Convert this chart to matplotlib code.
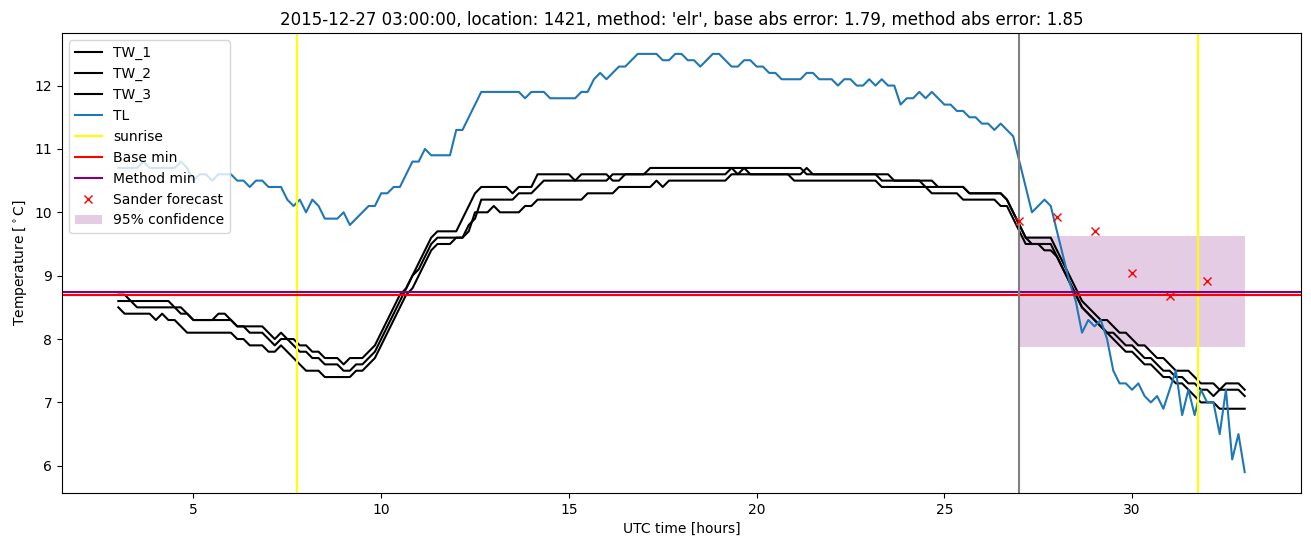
import matplotlib
matplotlib.use('Agg')
import matplotlib.pyplot as plt
import numpy as np

# time axis: 10-minute samples from 03:00 to 33:00 (hours since 2015-12-27 00:00 UTC)
hours = np.linspace(3, 33, 181)

tl_rows = [
    [10.7, 10.7, 10.7, 10.7, 10.8, 10.7],   # 3
    [10.7, 10.7, 10.7, 10.7, 10.8, 10.7],   # 4
    [10.5, 10.6, 10.6, 10.5, 10.6, 10.6],   # 5
    [10.6, 10.5, 10.5, 10.4, 10.5, 10.5],   # 6
    [10.4, 10.4, 10.4, 10.2, 10.1, 10.2],   # 7
    [10.0, 10.2, 10.1, 9.9, 9.9, 9.9],      # 8
    [10.0, 9.8, 9.9, 10.0, 10.1, 10.1],     # 9
    [10.3, 10.3, 10.4, 10.4, 10.6, 10.8],   # 10
    [10.8, 11.0, 10.9, 10.9, 10.9, 10.9],   # 11
    [11.3, 11.3, 11.5, 11.7, 11.9, 11.9],   # 12
    [11.9, 11.9, 11.9, 11.9, 11.9, 11.8],   # 13
    [11.9, 11.9, 11.9, 11.8, 11.8, 11.8],   # 14
    [11.8, 11.8, 11.9, 11.9, 12.1, 12.2],   # 15
    [12.1, 12.2, 12.3, 12.3, 12.4, 12.5],   # 16
    [12.5, 12.5, 12.5, 12.4, 12.4, 12.5],   # 17
    [12.5, 12.4, 12.4, 12.3, 12.4, 12.5],   # 18
    [12.5, 12.4, 12.3, 12.3, 12.4, 12.4],   # 19
    [12.3, 12.3, 12.2, 12.2, 12.1, 12.1],   # 20
    [12.1, 12.1, 12.2, 12.2, 12.1, 12.1],   # 21
    [12.1, 12.0, 12.1, 12.1, 12.0, 12.0],   # 22
    [12.1, 12.0, 12.1, 12.0, 12.0, 11.7],   # 23
    [11.8, 11.8, 11.9, 11.8, 11.9, 11.8],   # 24
    [11.7, 11.7, 11.6, 11.6, 11.5, 11.5],   # 25
    [11.4, 11.4, 11.3, 11.4, 11.3, 11.2],   # 26
    [10.8, 10.4, 10.0, 10.1, 10.2, 10.1],   # 27
    [9.7, 9.3, 8.9, 8.6, 8.1, 8.3],         # 28
    [8.2, 8.3, 8.0, 7.5, 7.3, 7.3],         # 29
    [7.2, 7.3, 7.1, 7.0, 7.1, 6.9],         # 30
    [7.2, 7.5, 6.8, 7.2, 6.8, 7.2],         # 31
    [7.0, 7.0, 6.5, 7.2, 6.1, 6.5],         # 32
    [5.9],                                  # 33
]

tw1_rows = [
    [8.7, 8.7, 8.6, 8.6, 8.6, 8.6],
    [8.6, 8.6, 8.6, 8.5, 8.5, 8.4],
    [8.3, 8.3, 8.3, 8.3, 8.4, 8.4],
    [8.3, 8.2, 8.2, 8.2, 8.2, 8.2],
    [8.1, 8.0, 8.1, 8.0, 8.0, 7.9],
    [7.9, 7.8, 7.8, 7.7, 7.7, 7.7],
    [7.6, 7.7, 7.7, 7.7, 7.8, 7.9],
    [8.1, 8.3, 8.5, 8.7, 8.8, 9.0],
    [9.2, 9.4, 9.6, 9.7, 9.7, 9.7],
    [9.7, 9.9, 10.1, 10.3, 10.4, 10.4],
    [10.4, 10.4, 10.4, 10.3, 10.4, 10.4],
    [10.4, 10.6, 10.6, 10.6, 10.6, 10.6],
    [10.6, 10.5, 10.6, 10.6, 10.6, 10.6],
    [10.6, 10.5, 10.5, 10.6, 10.6, 10.6],
    [10.6, 10.7, 10.7, 10.7, 10.7, 10.7],
    [10.7, 10.7, 10.7, 10.7, 10.7, 10.7],
    [10.7, 10.7, 10.7, 10.7, 10.7, 10.7],
    [10.7, 10.7, 10.7, 10.7, 10.7, 10.7],
    [10.7, 10.7, 10.6, 10.6, 10.6, 10.6],
    [10.6, 10.6, 10.6, 10.6, 10.6, 10.6],
    [10.6, 10.6, 10.6, 10.6, 10.5, 10.5],
    [10.5, 10.5, 10.5, 10.5, 10.5, 10.4],
    [10.4, 10.4, 10.4, 10.4, 10.3, 10.3],
    [10.3, 10.3, 10.3, 10.3, 10.2, 10.0],
    [9.8, 9.6, 9.6, 9.6, 9.6, 9.6],
    [9.4, 9.2, 9.0, 8.8, 8.6, 8.5],
    [8.4, 8.3, 8.3, 8.2, 8.1, 8.1],
    [8.0, 7.9, 7.9, 7.8, 7.7, 7.7],
    [7.6, 7.5, 7.5, 7.5, 7.4, 7.3],
    [7.3, 7.3, 7.2, 7.3, 7.3, 7.3],
    [7.2],
]

tw2_rows = [
    [8.6, 8.6, 8.6, 8.5, 8.5, 8.5],
    [8.5, 8.5, 8.5, 8.5, 8.4, 8.4],
    [8.3, 8.3, 8.3, 8.3, 8.3, 8.3],
    [8.3, 8.2, 8.2, 8.1, 8.1, 8.1],
    [8.0, 7.9, 8.0, 8.0, 7.9, 7.8],
    [7.8, 7.7, 7.7, 7.6, 7.6, 7.6],
    [7.5, 7.5, 7.6, 7.6, 7.7, 7.8],
    [8.0, 8.2, 8.4, 8.6, 8.8, 9.0],
    [9.1, 9.3, 9.5, 9.6, 9.6, 9.6],
    [9.6, 9.6, 9.8, 9.9, 10.2, 10.2],
    [10.2, 10.2, 10.2, 10.2, 10.3, 10.3],
    [10.3, 10.4, 10.5, 10.5, 10.5, 10.5],
    [10.5, 10.5, 10.5, 10.5, 10.5, 10.5],
    [10.5, 10.6, 10.6, 10.6, 10.6, 10.6],
    [10.6, 10.6, 10.6, 10.6, 10.6, 10.6],
    [10.6, 10.6, 10.6, 10.6, 10.6, 10.6],
    [10.6, 10.6, 10.7, 10.6, 10.7, 10.6],
    [10.6, 10.6, 10.6, 10.6, 10.6, 10.6],
    [10.6, 10.6, 10.7, 10.6, 10.6, 10.6],
    [10.6, 10.6, 10.6, 10.6, 10.6, 10.6],
    [10.6, 10.6, 10.5, 10.5, 10.5, 10.5],
    [10.5, 10.5, 10.5, 10.4, 10.4, 10.4],
    [10.4, 10.4, 10.4, 10.4, 10.3, 10.3],
    [10.3, 10.3, 10.3, 10.3, 10.2, 10.0],
    [9.8, 9.6, 9.5, 9.5, 9.5, 9.5],
    [9.3, 9.1, 8.9, 8.7, 8.5, 8.4],
    [8.3, 8.2, 8.1, 8.1, 8.0, 7.9],
    [7.9, 7.8, 7.7, 7.7, 7.6, 7.5],
    [7.5, 7.4, 7.4, 7.3, 7.3, 7.2],
    [7.2, 7.1, 7.2, 7.2, 7.2, 7.2],
    [7.1],
]

tw3_rows = [
    [8.5, 8.4, 8.4, 8.4, 8.4, 8.4],
    [8.3, 8.4, 8.3, 8.3, 8.2, 8.1],
    [8.1, 8.1, 8.1, 8.1, 8.1, 8.1],
    [8.1, 8.0, 8.0, 7.9, 7.9, 7.9],
    [7.8, 7.8, 7.9, 7.8, 7.7, 7.6],
    [7.5, 7.5, 7.5, 7.4, 7.4, 7.4],
    [7.4, 7.4, 7.5, 7.5, 7.6, 7.7],
    [7.9, 8.1, 8.3, 8.5, 8.7, 8.8],
    [9.0, 9.2, 9.4, 9.5, 9.5, 9.5],
    [9.6, 9.6, 9.7, 10.0, 10.0, 10.0],
    [10.1, 10.0, 10.0, 10.0, 10.0, 10.1],
    [10.1, 10.2, 10.2, 10.2, 10.2, 10.2],
    [10.2, 10.2, 10.2, 10.3, 10.3, 10.3],
    [10.3, 10.3, 10.4, 10.4, 10.4, 10.4],
    [10.4, 10.4, 10.5, 10.4, 10.5, 10.5],
    [10.5, 10.5, 10.5, 10.5, 10.5, 10.5],
    [10.5, 10.5, 10.6, 10.6, 10.6, 10.6],
    [10.6, 10.6, 10.6, 10.6, 10.6, 10.6],
    [10.5, 10.5, 10.5, 10.5, 10.5, 10.5],
    [10.5, 10.5, 10.5, 10.5, 10.5, 10.5],
    [10.5, 10.5, 10.4, 10.4, 10.4, 10.4],
    [10.4, 10.4, 10.4, 10.4, 10.3, 10.3],
    [10.3, 10.3, 10.3, 10.2, 10.2, 10.2],
    [10.2, 10.2, 10.2, 10.1, 10.1, 9.9],
    [9.7, 9.5, 9.5, 9.5, 9.4, 9.4],
    [9.3, 9.1, 8.9, 8.7, 8.5, 8.4],
    [8.3, 8.2, 8.1, 8.0, 7.9, 7.8],
    [7.8, 7.7, 7.6, 7.6, 7.5, 7.4],
    [7.4, 7.3, 7.3, 7.2, 7.1, 7.0],
    [7.0, 7.0, 6.9, 6.9, 6.9, 6.9],
    [6.9],
]

tl = [v for row in tl_rows for v in row]
tw1 = [v for row in tw1_rows for v in row]
tw2 = [v for row in tw2_rows for v in row]
tw3 = [v for row in tw3_rows for v in row]

sunrise_hours = [7.75, 31.75]
forecast_start = 27.0
base_min = 8.70
method_min = 8.75
sander_hours = [27, 28, 29, 30, 31, 32]
sander_values = [9.86, 9.93, 9.71, 9.05, 8.68, 8.92]
conf_hours = [27, 33]
conf_low = 7.88
conf_high = 9.62

title = ("2015-12-27 03:00:00, location: 1421, method: 'elr', "
         "base abs error: 1.79, method abs error: 1.85")

fig, ax = plt.subplots(figsize=(13.11, 5.47), dpi=100)
fig.subplots_adjust(left=0.0473, right=0.9924, bottom=0.0987, top=0.9397)

ax.plot(hours, tw1, color='black', label='TW_1')
ax.plot(hours, tw2, color='black', label='TW_2')
ax.plot(hours, tw3, color='black', label='TW_3')
ax.plot(hours, tl, color='#1f77b4', label='TL')
ax.axvline(sunrise_hours[0], color='yellow', label='sunrise')
ax.axvline(sunrise_hours[1], color='yellow')
ax.axhline(base_min, color='red', label='Base min')
ax.axhline(method_min, color='purple', label='Method min')
ax.axvline(forecast_start, color='gray')
ax.plot(sander_hours, sander_values, 'rx', label='Sander forecast')
ax.fill_between(conf_hours, conf_low, conf_high, color='purple', alpha=0.2,
                linewidth=0, label='95% confidence')

ax.set_title(title)
ax.set_xlabel('UTC time [hours]')
ax.set_ylabel(r'Temperature [$^\circ$C]')
ax.legend(loc='upper left')

fig.savefig('out.png', dpi=100)
